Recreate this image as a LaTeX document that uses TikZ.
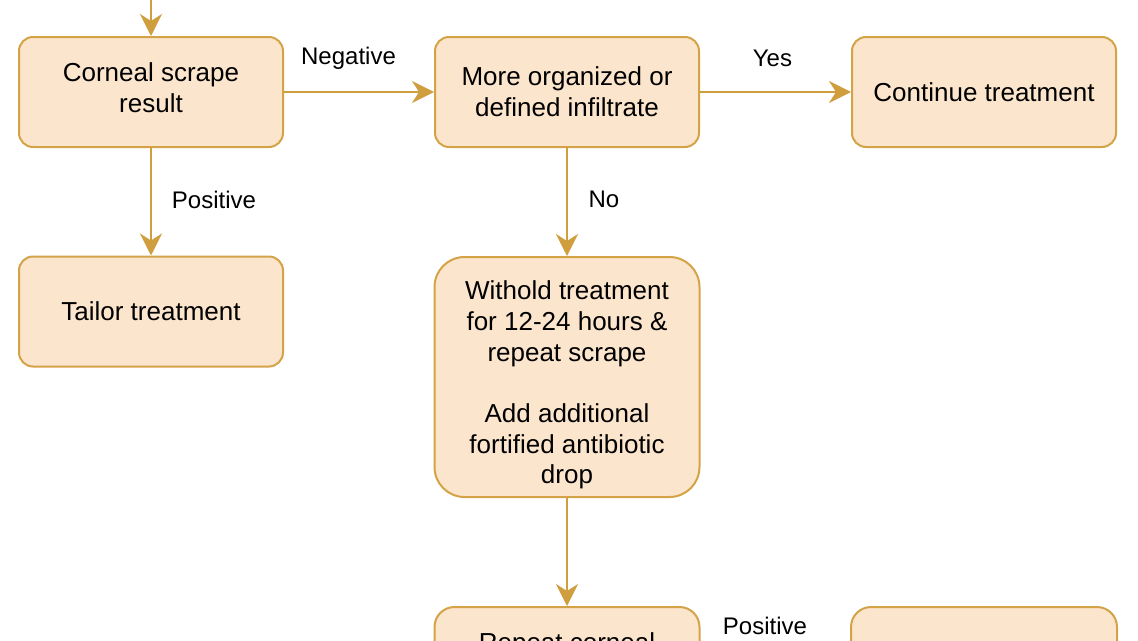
\documentclass[tikz,border=0pt]{standalone}
\usepackage{fontspec}
\setmainfont{Liberation Sans}
\usetikzlibrary{arrows.meta}
\definecolor{boxfill}{HTML}{FCE5CD}
\definecolor{boxdraw}{HTML}{D4A347}
\definecolor{arr}{HTML}{CF9E3E}
\begin{document}
\begin{tikzpicture}[x=1pt,y=-1pt,
  box/.style={draw=boxdraw, fill=boxfill, line width=2pt, rounded corners=14pt,
    minimum width=264pt, minimum height=110pt, align=center,
    font=\fontsize{26}{30.7}\selectfont, inner sep=0pt},
  txt/.style={align=center, font=\fontsize{26}{30.7}\selectfont, inner sep=0pt},
  lbl/.style={font=\fontsize{24}{28}\selectfont, inner sep=0pt},
  conn/.style={draw=arr, line width=2.5pt, -{Stealth[length=22pt,width=22pt,inset=7pt]}}]
\useasboundingbox (0,0) rectangle (1138,640);
\clip (0,0) rectangle (1138,640);

\node[box] (a) at (151,92) {};
\node[txt] (at) at (151,88) {Corneal scrape\\result};
\node[box] (b) at (567,92) {More organized or\\defined infiltrate};
\node[box] (c) at (984,92) {Continue treatment};
\node[box] (d) at (151,311.5) {Tailor treatment};
\node[box, minimum width=265pt, minimum height=240pt, rounded corners=30pt] (e) at (567,377) {};
\node[txt] (et) at (567,385)
  {Withold treatment\\for 12-24 hours \&\\repeat scrape\\[30.7pt]Add additional\\fortified antibiotic\\drop};
\node[box, minimum width=265pt, rounded corners=20pt] (f) at (567,662) {};
\node[box, minimum width=266pt, rounded corners=20pt] (g) at (984,662) {};
\node[txt, anchor=base] (ft) at (567,651) {Repeat corneal};

\coordinate (top) at (151,-5);
\draw[conn] (top) -- (a);
\draw[conn, line width=1.5pt] (a) -- node[lbl, pos=0.43, yshift=34pt] (ln) {Negative} (b);
\draw[conn] (b) -- node[lbl, pos=0.48, yshift=34pt] (ly) {Yes} (c);
\draw[conn] (a) -- node[lbl, xshift=63pt, pos=0.48] (lp) {Positive} (d);
\draw[conn, line width=1.8pt] (b) -- node[lbl, xshift=37pt, pos=0.48] (lno) {No} (e);
\draw[conn, line width=1.3pt] (e) -- (f);
\node[lbl] (lp2) at (765,626) {Positive};
\end{tikzpicture}
\end{document}
